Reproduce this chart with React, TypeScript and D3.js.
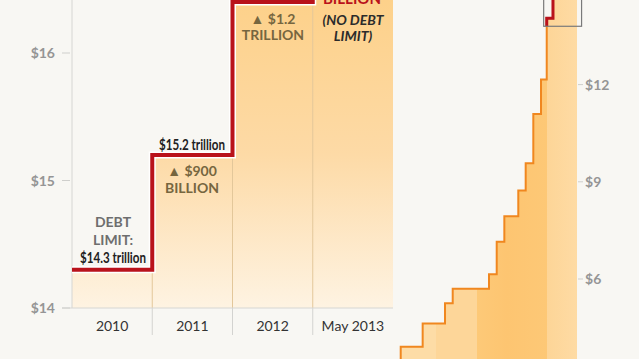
import React from "react";
import * as d3 from "d3";

// ---- data ----
const leftCategories = ["2010", "2011", "2012", "May 2013"];
const leftLimits = [14.3, 15.2, 16.4, 16.7]; // $ trillions
const leftTicks = [14, 15, 16];

const rightYears = [1990.88, 1993.76, 1996.69, 1997.7, 2002.46, 2003.47, 2004.47, 2006.3, 2007.27, 2008.27, 2009.28, 2010.03, 2010.85];
const rightLimits = [3.91, 4.63, 5.25, 5.7, 6.15, 7.15, 7.94, 8.73, 9.57, 11.09, 12.16, 14.05, 15.2];
const rightTicks = [6, 9, 12];
const rightEndYear = 2014;

const W = 639;
const H = 359;
const FONT = "Lato, 'Open Sans', sans-serif";

export default function App() {
  // left panel scales
  const lx = d3.scaleBand<string>().domain(leftCategories).range([72, 393]).padding(0);
  const ly = d3.scaleLinear().domain([14, 16]).range([308, 53]);
  const bw = lx.bandwidth();
  const baseY = ly(14);

  let fillD = `M${lx(leftCategories[0])},${baseY}`;
  leftCategories.forEach((c, i) => {
    const x0 = lx(c)!;
    const yv = ly(leftLimits[i]);
    fillD += ` V${yv} H${x0 + bw}`;
  });
  fillD += ` V${baseY} Z`;
  const lastX = lx(leftCategories[3])!;
  const redD = `M${lx(leftCategories[0])},${ly(leftLimits[0])} H${lx(leftCategories[1])} V${ly(leftLimits[1])} H${lx(leftCategories[2])} V${ly(leftLimits[2])} H${lastX} V${ly(leftLimits[3])}`;

  // right panel scales
  const rx = d3.scaleLinear().domain([1990, rightEndYear]).range([394, 577]);
  const ry = d3.scaleLinear().domain([6, 12]).range([279, 84.6]);
  const rBase = 420;
  let rFill = `M${rx(rightYears[0])},${rBase}`;
  let rLine = `M${rx(rightYears[0])},${rBase}`;
  rightYears.forEach((yr, i) => {
    const next = i < rightYears.length - 1 ? rightYears[i + 1] : rightEndYear;
    rFill += ` V${ry(rightLimits[i])} H${rx(next)}`;
    rLine += ` V${ry(rightLimits[i])}` + (i < rightYears.length - 1 ? ` H${rx(next)}` : "");
  });
  rFill += ` V${rBase} Z`;

  const boxX0 = rx(2009.63);
  const boxX1 = rx(2014.6);
  const boxY1 = ry(13.8);

  const catLabelY = 331;

  return (
    <div style={{ position: "fixed", left: 0, top: 0 }}>
      <svg width={W} height={H} style={{ display: "block" }}>
        <defs>
          <linearGradient id="lgrad" gradientUnits="userSpaceOnUse" x1="0" y1="0" x2="0" y2={baseY}>
            <stop offset="0" stopColor="#fdd18a" />
            <stop offset="0.5" stopColor="#fddaa6" />
            <stop offset="1" stopColor="#fef3e2" />
          </linearGradient>
          <linearGradient id="rgrad" gradientUnits="userSpaceOnUse" x1={rx(rightYears[0])} y1="0" x2={rx(rightEndYear)} y2="0">
            <stop offset="0" stopColor="#fddca6" />
            <stop offset="0.2" stopColor="#fddca6" />
            <stop offset="0.2" stopColor="#fdd699" />
            <stop offset="0.43" stopColor="#fdd699" />
            <stop offset="0.43" stopColor="#fdc978" />
            <stop offset="0.6" stopColor="#fdc571" />
            <stop offset="0.83" stopColor="#fdc876" />
            <stop offset="0.83" stopColor="#fdd597" />
            <stop offset="1" stopColor="#fedba4" />
          </linearGradient>
          <clipPath id="boxclip">
            <rect x={boxX0} y={-2} width={boxX1 - boxX0} height={boxY1 + 2} />
          </clipPath>
        </defs>
        <rect x={0} y={0} width={W} height={H} fill="#f8f7f3" />

        {/* left panel */}
        <path d={fillD} fill="url(#lgrad)" />
        {leftCategories.slice(1).map((c, i) => (
          <g key={c}>
            <line x1={lx(c)} x2={lx(c)} y1={Math.max(0, ly(leftLimits[i + 1]))} y2={baseY} stroke="#e3c79a" strokeWidth={1} />
            <line x1={lx(c)} x2={lx(c)} y1={baseY} y2={335} stroke="#d3d3d0" strokeWidth={1} />
          </g>
        ))}
        <line x1={72} x2={72} y1={0} y2={baseY} stroke="#d6d6d3" strokeWidth={1} />
        <line x1={62} x2={393} y1={baseY} y2={baseY} stroke="#d6d6d3" strokeWidth={1} />
        {leftTicks.map((t) => (
          <g key={t}>
            <line x1={62} x2={70} y1={ly(t)} y2={ly(t)} stroke="#cfcfcc" strokeWidth={1} />
            <text x={55} y={ly(t)} dy="0.36em" textAnchor="end" fontFamily={FONT} fontWeight="bold" fontSize={14} fill="#959595">
              ${t}
            </text>
          </g>
        ))}
        {leftCategories.map((c) => (
          <text key={c} x={lx(c)! + bw / 2} y={catLabelY} textAnchor="middle" fontFamily={FONT} fontSize={14} fill="#333">
            {c}
          </text>
        ))}
        <path d={redD} fill="none" stroke="#ffffff" strokeWidth={7} strokeLinejoin="miter" />
        <path d={redD} fill="none" stroke="#b9121b" strokeWidth={4} strokeLinejoin="miter" />

        {/* left annotations */}
        <g fontFamily={FONT} fontSize={14} textAnchor="middle">
          <text x={113} y={227} fontWeight="bold" fill="#6e6e6e">DEBT</text>
          <text x={113} y={245} fontWeight="bold" fill="#6e6e6e">LIMIT:</text>
          <text x={80} y={263} textAnchor="start" fontWeight="bold" fontSize={15.5} fill="#222" textLength={66} lengthAdjust="spacingAndGlyphs">$14.3 trillion</text>
          <text x={159} y={150} textAnchor="start" fontWeight="bold" fontSize={15.5} fill="#222" textLength={66} lengthAdjust="spacingAndGlyphs">$15.2 trillion</text>
          <text x={192} y={176} fontWeight="bold" fill="#76663f">▲ $900</text>
          <text x={192} y={193} fontWeight="bold" fill="#76663f">BILLION</text>
          <text x={273} y={24} fontWeight="bold" fill="#76663f">▲ $1.2</text>
          <text x={273} y={40} fontWeight="bold" fill="#76663f">TRILLION</text>
          <text x={352} y={4} fontWeight="bold" fill="#b9121b" fontSize={15}>BILLION</text>
          <text x={353} y={25} fontWeight="bold" fontStyle="italic" fill="#2b2b2b">(NO DEBT</text>
          <text x={353} y={41} fontWeight="bold" fontStyle="italic" fill="#2b2b2b">LIMIT)</text>
        </g>

        {/* right panel */}
        <path d={rFill} fill="url(#rgrad)" />
        <path d={rLine} fill="none" stroke="#f0871f" strokeWidth={2} />
        <path d={rLine} fill="none" stroke="#b9121b" strokeWidth={3} clipPath="url(#boxclip)" />
        <rect x={boxX0} y={-2} width={boxX1 - boxX0} height={boxY1 + 2} fill="none" stroke="#7a7a7a" strokeWidth={1.2} />
        {rightTicks.map((t) => (
          <g key={t}>
            <line x1={578} x2={583} y1={ry(t)} y2={ry(t)} stroke="#cfcfcc" strokeWidth={1} />
            <text x={585} y={ry(t)} dy="0.36em" textAnchor="start" fontFamily={FONT} fontWeight="bold" fontSize={14} fill="#959595">
              ${t}
            </text>
          </g>
        ))}
      </svg>
    </div>
  );
}
